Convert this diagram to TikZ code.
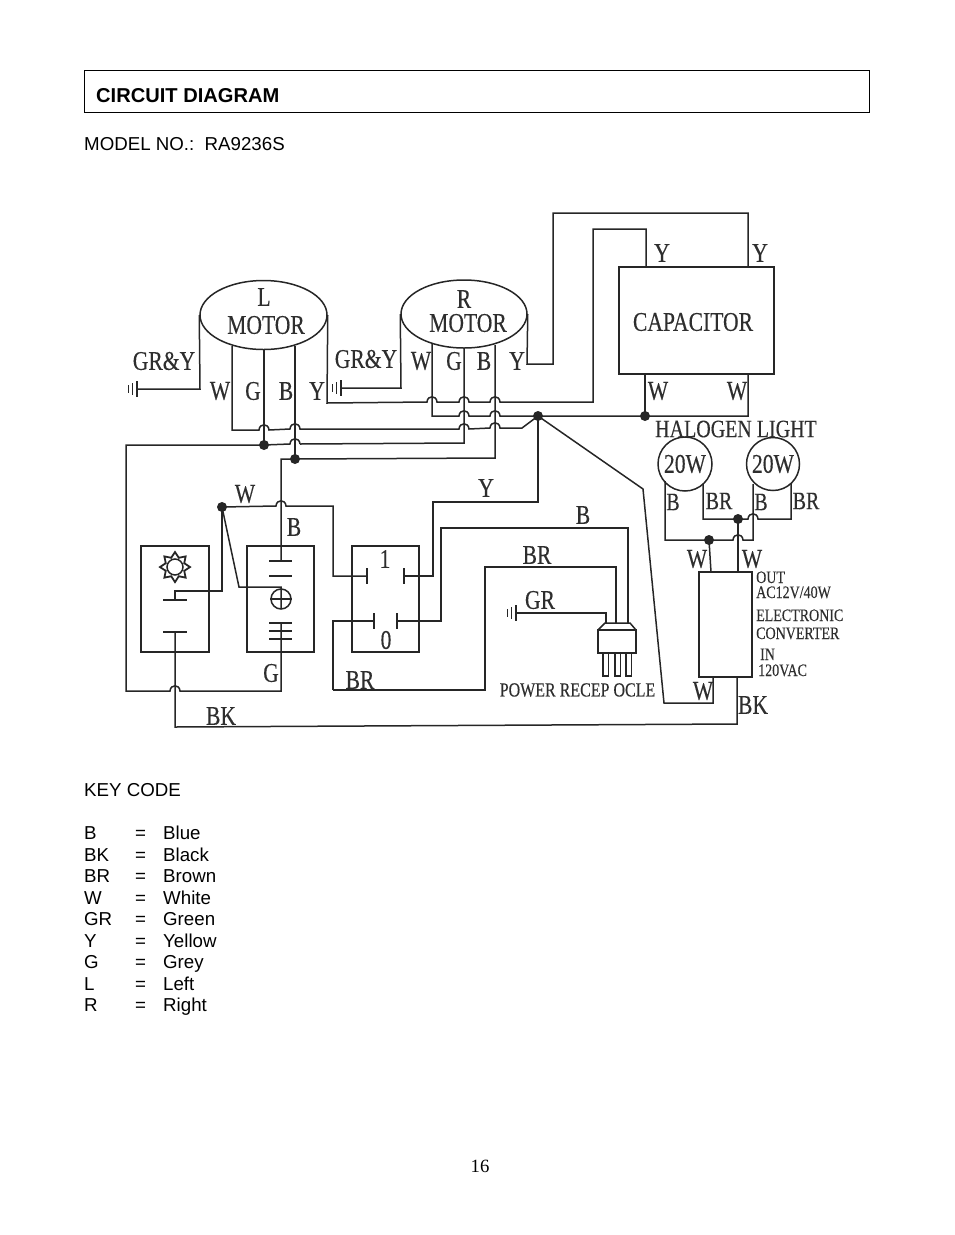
\documentclass[tikz,border=0pt]{standalone}
\usepackage{fontspec}
\setmainfont{Liberation Sans}
\newfontfamily\dfont[FakeStretch=0.8,FakeBold=0.25]{Liberation Serif}
\newfontfamily\pnfont{Liberation Serif}
\usetikzlibrary{shapes.geometric}
\definecolor{ink}{HTML}{262626}
\definecolor{lab}{HTML}{2E2E2E}
\newcommand{\hj}[2]{-- (#1-5,#2) .. controls (#1-4.5,#2-7) and (#1+4.5,#2-7) .. (#1+5,#2)}
\tikzset{
 wire/.style={draw=ink,line width=1.5pt,line join=miter},
 part/.style={draw=ink,line width=1.5pt,inner sep=0pt,fill=none},
 jdot/.style={circle,fill=ink,inner sep=0pt,minimum size=10pt},
 big/.style={font=\dfont\fontsize{27}{27}\selectfont,text=lab,inner sep=0pt},
 mid/.style={font=\dfont\fontsize{25}{25}\selectfont,text=lab,inner sep=0pt},
 rec/.style={font=\dfont\fontsize{20}{20}\selectfont,text=lab,inner sep=0pt},
 small/.style={font=\dfont\fontsize{17.5}{17.5}\selectfont,text=lab,inner sep=0pt,anchor=base west},
 body/.style={font=\fontsize{18.7}{18.7}\selectfont,text=black,inner sep=0pt,anchor=base west},
}
\begin{document}
\begin{tikzpicture}[x=1pt,y=-1pt]
\useasboundingbox (0,0) rectangle (954,1235);
% page furniture
\node[draw=black,line width=0.9pt,minimum width=785pt,minimum height=42pt,inner sep=0pt] (titlebox) at (476.5,91) {};
\node[body,font=\bfseries\fontsize{20.1}{20.1}\selectfont] (title) at (96,102) {CIRCUIT DIAGRAM};
\node[body] (model) at (84,150) {MODEL NO.:\ \ RA9236S};
\node[body] (keycode) at (84,796) {KEY CODE};
\foreach \n/\a/\b/\y in {a/B/Blue/839,b/BK/Black/861,c/BR/Brown/882,d/W/White/904,e/GR/Green/925,f/Y/Yellow/947,g/G/Grey/968,h/L/Left/990,i/R/Right/1011}{
  \node[body] (k\n) at (84,\y) {\a};
  \node[body] (q\n) at (135,\y) {=};
  \node[body] (v\n) at (163,\y) {\b};
}
\node[font=\pnfont\fontsize{18.7}{18.7}\selectfont,inner sep=0pt] (pageno) at (480,1166) {16};

% parts
\node[part,ellipse,minimum width=127pt,minimum height=69pt] (lm) at (263.5,315) {};
\node[part,ellipse,minimum width=126pt,minimum height=68pt] (rm) at (464,314) {};
\node[part,minimum width=155pt,minimum height=107pt] (cap) at (696.5,320.5) {};
\node[part,circle,minimum size=54pt] (h1) at (685,464) {};
\node[part,circle,minimum size=53pt] (h2) at (773,464) {};
\node[part,minimum width=53pt,minimum height=105pt] (conv) at (725.5,624.5) {};
\node[part,minimum width=68pt,minimum height=106pt] (sw1) at (175,599) {};
\node[part,minimum width=67pt,minimum height=106pt] (sw2) at (280.5,599) {};
\node[part,minimum width=67pt,minimum height=106pt] (sw3) at (385.5,599) {};
% junctions
\node[jdot] (jLG) at (264,445) {};
\node[jdot] (jLB) at (295,459) {};
\node[jdot] (jM) at (538,416) {};
\node[jdot] (jC) at (645,416) {};
\node[jdot] (jS) at (222,507) {};
\node[jdot] (jH1) at (709,540) {};
\node[jdot] (jH2) at (738,519) {};

% motor leads
\coordinate (gl) at (137,389); \coordinate (gr) at (341,388); \coordinate (gp) at (516,613);
\draw[wire] (lm.west) -- (200,389) -- (gl);
\draw[wire] (rm.west) -- (401,388) -- (gr);
\draw[wire] (232,346) -- (232,430) \hj{264}{430} \hj{295}{429} \hj{464}{429} \hj{495}{428} -- (522,428) -- (jM.center);
\draw[wire] (264,350) -- (jLG.center);
\draw[wire] (295,346) -- (jLB.center);
\draw[wire] (lm.east) -- (327,403) \hj{432}{402} \hj{464}{402} \hj{495}{402} -- (593,402) -- (593,229) -- (646,229) -- (646,267);
\draw[wire] (432,344) -- (432,416) \hj{464}{416} \hj{495}{416} -- (jM.center) -- (jC.center) -- (748,416) -- (748,374);
\draw[wire] (jC.center) -- (645,374);
\draw[wire] (464,348) -- (464,443) -- (300,444);
\draw[wire] (495,345) -- (495,458) -- (jLB.center) -- (281,459) -- (281,561);
\draw[wire] (rm.east) -- (527,364) -- (553,364) -- (553,213) -- (748,213) -- (748,267);
% left return
\draw[wire] (300,444) .. controls (299.5,437) and (290.5,437) .. (290,444) -- (jLG.center) -- (126,445) -- (126,691) \hj{175}{691} -- (281,691) -- (281,623);
% Switch wiring
\draw[wire] (jM.center) -- (538,502) -- (433,502) -- (433,576) -- (404,576);
\draw[wire] (jS.center) \hj{281}{506} -- (333,506) -- (333,576) -- (367,576);
\draw[wire] (jS.center) -- (222,591) -- (175,591) -- (175,600);
\draw[wire] (jS.center) -- (239,587) -- (281,587) -- (281,609);
\draw[wire] (175,632) -- (175,727) -- (737,724) -- (737,677);
\draw[wire] (333,690) -- (333,621) -- (374,621);
\draw[wire] (397,621) -- (441,621) -- (441,528) -- (628,528) -- (628,623);
\draw[wire] (333,690) -- (485,690) -- (485,567) -- (616,567) -- (616,623);
\draw[wire] (gp) -- (606,613) -- (606,623);
% Diagonal to converter
\draw[wire] (jM.center) -- (643,489) -- (664,703) -- (713,703) -- (713,677);
% halogen
\draw[wire] (665,481) -- (665,540) -- (jH1.center) \hj{738}{540} -- (753,540) -- (753,484);
\draw[wire] (703,484) -- (703,519) -- (jH2.center) \hj{753}{519} -- (791,519) -- (791,483);
\draw[wire] (jH1.center) -- (711,572);
\draw[wire] (jH2.center) -- (738,572);

% grounds
\foreach \c/\x/\y in {gl/137/389,gr/341/388,gp/516/613}{
  \draw[wire] (\x,\y-8) -- (\x,\y+8);
  \draw[wire] (\x-4.5,\y-6) -- (\x-4.5,\y+6);
  \draw[wire] (\x-8.5,\y-4) -- (\x-8.5,\y+4);
}
% contacts
\foreach \y in {561,576}{\draw[wire] (269,\y) -- (292,\y);}
\foreach \y in {623,631,639}{\draw[wire] (269,\y) -- (292,\y);}
\draw[wire] (163,600) -- (187,600);
\draw[wire] (163,632) -- (187,632);
\draw[wire] (367,568) -- (367,584);
\draw[wire] (404,568) -- (404,584);
\draw[wire] (374,613) -- (374,629);
\draw[wire] (397,613) -- (397,629);
\node[part,circle,minimum size=20pt] (lampsym) at (281,599) {};
\draw[wire] (lampsym.west) -- (lampsym.east);
% sun
\node[star,star points=8,star point ratio=1.5,draw=ink,line width=1.8pt,fill=white,minimum size=30pt,inner sep=0pt] (sun) at (175,567) {};
\node[circle,fill=white,draw=ink,line width=1.5pt,minimum size=16pt,inner sep=0pt] (suncore) at (175,567) {};
% plug
\draw[part] (598,630) -- (605,623) -- (630,623) -- (636,630);
\node[part,minimum width=38pt,minimum height=23pt] (plug) at (617,641.5) {};
\foreach \x in {603,615,626}{\draw[wire] (\x,653) -- (\x,676) -- (\x+5.5,676) -- (\x+5.5,653);}

% labels
\node[big] (t1) at (264,297) {L};
\node[big] (t2) at (266,325) {MOTOR};
\node[big] (t3) at (464,299) {R};
\node[big] (t4) at (468,323) {MOTOR};
\node[big] (t5) at (164,361) {GR\&Y};
\node[big] (t6) at (366,359) {GR\&Y};
\node[big] (t7) at (220,391) {W};
\node[big] (t8) at (253,391) {G};
\node[big] (t9) at (286,391) {B};
\node[big] (t10) at (317,391) {Y};
\node[big] (t11) at (421,361) {W};
\node[big] (t12) at (454,361) {G};
\node[big] (t13) at (484,361) {B};
\node[big] (t14) at (517,361) {Y};
\node[big] (t15) at (662,253) {Y};
\node[big] (t16) at (760,253) {Y};
\node[big] (t17) at (693,322) {CAPACITOR};
\node[big] (t18) at (658,391) {W};
\node[big] (t19) at (737,391) {W};
\node[mid] (t20) at (736,429) {HALOGEN LIGHT};
\node[big] (t21) at (685,464) {20W};
\node[big] (t22) at (773,464) {20W};
\node[mid] (t23) at (673,502) {B};
\node[mid] (t24) at (719,501) {BR};
\node[mid] (t25) at (761,502) {B};
\node[mid] (t26) at (806,501) {BR};
\node[big] (t27) at (697,559) {W};
\node[big] (t28) at (752,559) {W};
\node[small] (t29) at (756,583) {OUT};
\node[small] (t30) at (756,598) {AC12V/40W};
\node[small] (t31) at (756,621) {ELECTRONIC};
\node[small] (t32) at (756,639) {CONVERTER};
\node[small] (t33) at (760,660) {IN};
\node[small] (t34) at (758,676) {120VAC};
\node[big] (t35) at (703,691) {W};
\node[big] (t36) at (753,705) {BK};
\node[big] (t37) at (486,488) {Y};
\node[big] (t38) at (245,494) {W};
\node[big] (t39) at (294,527) {B};
\node[big] (t40) at (271,673) {G};
\node[big] (t41) at (360,680) {BR};
\node[big] (t42) at (221,716) {BK};
\node[big] (t43) at (583,515) {B};
\node[big] (t44) at (537,555) {BR};
\node[big] (t45) at (540,600) {GR};
\node[big] (t46) at (385,559) {1};
\node[big] (t47) at (386,640) {0};
\node[rec] (t48) at (577.5,690) {POWER RECEP OCLE};
\end{tikzpicture}
\end{document}
